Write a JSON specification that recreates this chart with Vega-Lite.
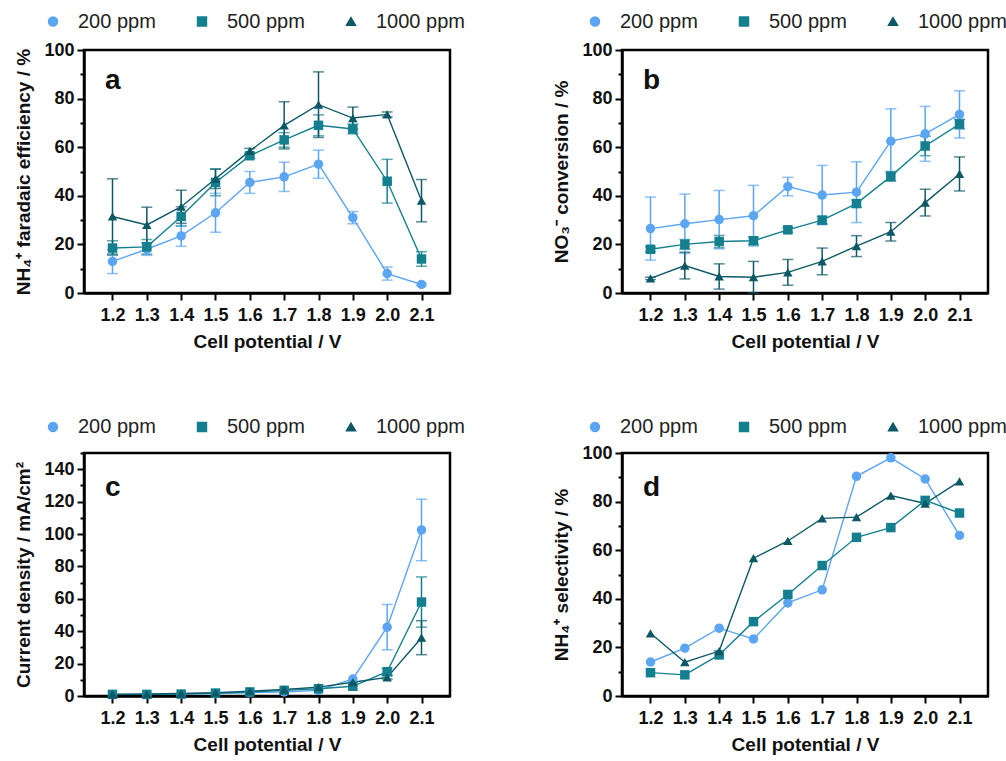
{
  "$schema": "https://vega.github.io/schema/vega-lite/v6.json",
  "background": "white",
  "padding": {"left": 13, "top": 10, "right": 0, "bottom": 0},
  "bounds": "flush",
  "columns": 2,
  "spacing": {"row": 160, "column": 172},
  "resolve": {"scale": {"color": "independent", "shape": "independent"}, "legend": {"color": "independent", "shape": "independent"}},
  "config": {
    "view": {"stroke": "#000", "strokeWidth": 2.5},
    "axis": {"domainColor": "#000", "domainWidth": 2.5, "tickColor": "#000", "tickWidth": 2, "tickSize": 7, "grid": false,
      "labelFont": "Liberation Sans", "labelFontWeight": "bold", "labelFontSize": 18, "labelColor": "#111",
      "titleFont": "Liberation Sans", "titleFontWeight": "bold", "titleFontSize": 19, "titleColor": "#111"},
    "legend": {"orient": "none", "direction": "horizontal", "title": null, "labelFont": "Liberation Sans", "labelFontSize": 20, "labelColor": "#222", "symbolSize": 80, "symbolOpacity": 1, "labelOffset": 15, "columnPadding": 36},
    "title": {"font": "Liberation Sans", "fontWeight": "bold", "fontSize": 28, "color": "#111", "anchor": "start", "frame": "group", "orient": "top", "offset": 0, "dx": 21, "baseline": "alphabetic"}
  },
  "datasets": {
    "a": [
      {"V":1.2,"series":"200 ppm","value":13,"err":5},{"V":1.3,"series":"200 ppm","value":18,"err":2.5},{"V":1.4,"series":"200 ppm","value":23.5,"err":4.3},{"V":1.5,"series":"200 ppm","value":33,"err":8},{"V":1.6,"series":"200 ppm","value":45.5,"err":4.5},{"V":1.7,"series":"200 ppm","value":47.8,"err":6},{"V":1.8,"series":"200 ppm","value":53,"err":5.8},{"V":1.9,"series":"200 ppm","value":31,"err":2.5},{"V":2.0,"series":"200 ppm","value":8,"err":2.7},{"V":2.1,"series":"200 ppm","value":3.5,"err":0.5},
      {"V":1.2,"series":"500 ppm","value":18.5,"err":3},{"V":1.3,"series":"500 ppm","value":19,"err":3},{"V":1.4,"series":"500 ppm","value":31.5,"err":4},{"V":1.5,"series":"500 ppm","value":45.5,"err":5.5},{"V":1.6,"series":"500 ppm","value":56.5,"err":1},{"V":1.7,"series":"500 ppm","value":63,"err":3},{"V":1.8,"series":"500 ppm","value":69,"err":4.3},{"V":1.9,"series":"500 ppm","value":67.5,"err":2},{"V":2.0,"series":"500 ppm","value":46,"err":9},{"V":2.1,"series":"500 ppm","value":14,"err":3},
      {"V":1.2,"series":"1000 ppm","value":31.5,"err":15.5},{"V":1.3,"series":"1000 ppm","value":28,"err":7.3},{"V":1.4,"series":"1000 ppm","value":35.5,"err":6.8},{"V":1.5,"series":"1000 ppm","value":47,"err":4},{"V":1.6,"series":"1000 ppm","value":58.5,"err":1},{"V":1.7,"series":"1000 ppm","value":69,"err":9.7},{"V":1.8,"series":"1000 ppm","value":77.5,"err":13.5},{"V":1.9,"series":"1000 ppm","value":72,"err":4.5},{"V":2.0,"series":"1000 ppm","value":73.5,"err":1},{"V":2.1,"series":"1000 ppm","value":38,"err":8.7}
    ],
    "b": [
      {"V":1.2,"series":"200 ppm","value":26.5,"err":13},{"V":1.3,"series":"200 ppm","value":28.5,"err":12.2},{"V":1.4,"series":"200 ppm","value":30.2,"err":12},{"V":1.5,"series":"200 ppm","value":31.8,"err":12.5},{"V":1.6,"series":"200 ppm","value":43.8,"err":3.8},{"V":1.7,"series":"200 ppm","value":40.3,"err":12.2},{"V":1.8,"series":"200 ppm","value":41.5,"err":12.5},{"V":1.9,"series":"200 ppm","value":62.5,"err":13.3},{"V":2.0,"series":"200 ppm","value":65.5,"err":11.3},{"V":2.1,"series":"200 ppm","value":73.5,"err":9.7},
      {"V":1.2,"series":"500 ppm","value":18,"err":1},{"V":1.3,"series":"500 ppm","value":20,"err":2},{"V":1.4,"series":"500 ppm","value":21.2,"err":2.5},{"V":1.5,"series":"500 ppm","value":21.5,"err":1.5},{"V":1.6,"series":"500 ppm","value":26,"err":1},{"V":1.7,"series":"500 ppm","value":30,"err":1.5},{"V":1.8,"series":"500 ppm","value":36.8,"err":1.5},{"V":1.9,"series":"500 ppm","value":48,"err":2},{"V":2.0,"series":"500 ppm","value":60.5,"err":4},{"V":2.1,"series":"500 ppm","value":69.5,"err":2},
      {"V":1.2,"series":"1000 ppm","value":6,"err":0.5},{"V":1.3,"series":"1000 ppm","value":11.3,"err":5.5},{"V":1.4,"series":"1000 ppm","value":6.8,"err":5.2},{"V":1.5,"series":"1000 ppm","value":6.5,"err":6.5},{"V":1.6,"series":"1000 ppm","value":8.5,"err":5.3},{"V":1.7,"series":"1000 ppm","value":13,"err":5.5},{"V":1.8,"series":"1000 ppm","value":19.3,"err":4.3},{"V":1.9,"series":"1000 ppm","value":25.2,"err":3.8},{"V":2.0,"series":"1000 ppm","value":37.2,"err":5.5},{"V":2.1,"series":"1000 ppm","value":49,"err":7}
    ],
    "c": [
      {"V":1.2,"series":"200 ppm","value":1,"err":0},{"V":1.3,"series":"200 ppm","value":1,"err":0},{"V":1.4,"series":"200 ppm","value":1,"err":0},{"V":1.5,"series":"200 ppm","value":1.5,"err":0},{"V":1.6,"series":"200 ppm","value":2,"err":0},{"V":1.7,"series":"200 ppm","value":2.5,"err":0},{"V":1.8,"series":"200 ppm","value":3.5,"err":0},{"V":1.9,"series":"200 ppm","value":10.5,"err":0},{"V":2.0,"series":"200 ppm","value":42.5,"err":14},{"V":2.1,"series":"200 ppm","value":102.5,"err":19},
      {"V":1.2,"series":"500 ppm","value":1,"err":0},{"V":1.3,"series":"500 ppm","value":1,"err":0},{"V":1.4,"series":"500 ppm","value":1.2,"err":0},{"V":1.5,"series":"500 ppm","value":1.8,"err":0},{"V":1.6,"series":"500 ppm","value":2.5,"err":0},{"V":1.7,"series":"500 ppm","value":3.5,"err":0},{"V":1.8,"series":"500 ppm","value":4.5,"err":0},{"V":1.9,"series":"500 ppm","value":6,"err":0},{"V":2.0,"series":"500 ppm","value":15,"err":2},{"V":2.1,"series":"500 ppm","value":58,"err":15.5},
      {"V":1.2,"series":"1000 ppm","value":1,"err":0},{"V":1.3,"series":"1000 ppm","value":1.2,"err":0},{"V":1.4,"series":"1000 ppm","value":1.5,"err":0},{"V":1.5,"series":"1000 ppm","value":2,"err":0},{"V":1.6,"series":"1000 ppm","value":3,"err":0},{"V":1.7,"series":"1000 ppm","value":4,"err":0},{"V":1.8,"series":"1000 ppm","value":5.5,"err":0},{"V":1.9,"series":"1000 ppm","value":8.5,"err":0},{"V":2.0,"series":"1000 ppm","value":11.5,"err":1},{"V":2.1,"series":"1000 ppm","value":36,"err":10.5}
    ],
    "d": [
      {"V":1.2,"series":"200 ppm","value":14},{"V":1.3,"series":"200 ppm","value":19.7},{"V":1.4,"series":"200 ppm","value":27.9},{"V":1.5,"series":"200 ppm","value":23.5},{"V":1.6,"series":"200 ppm","value":38.3},{"V":1.7,"series":"200 ppm","value":43.7},{"V":1.8,"series":"200 ppm","value":90.4},{"V":1.9,"series":"200 ppm","value":98},{"V":2.0,"series":"200 ppm","value":89.3},{"V":2.1,"series":"200 ppm","value":66.1},
      {"V":1.2,"series":"500 ppm","value":9.6},{"V":1.3,"series":"500 ppm","value":8.7},{"V":1.4,"series":"500 ppm","value":16.9},{"V":1.5,"series":"500 ppm","value":30.6},{"V":1.6,"series":"500 ppm","value":41.8},{"V":1.7,"series":"500 ppm","value":53.7},{"V":1.8,"series":"500 ppm","value":65.3},{"V":1.9,"series":"500 ppm","value":69.3},{"V":2.0,"series":"500 ppm","value":80.5},{"V":2.1,"series":"500 ppm","value":75.3},
      {"V":1.2,"series":"1000 ppm","value":25.8},{"V":1.3,"series":"1000 ppm","value":13.9},{"V":1.4,"series":"1000 ppm","value":18.5},{"V":1.5,"series":"1000 ppm","value":56.7},{"V":1.6,"series":"1000 ppm","value":63.8},{"V":1.7,"series":"1000 ppm","value":73.1},{"V":1.8,"series":"1000 ppm","value":73.6},{"V":1.9,"series":"1000 ppm","value":82.5},{"V":2.0,"series":"1000 ppm","value":79.2},{"V":2.1,"series":"1000 ppm","value":88.3}
    ]
  },
  "concat": [
    {
      "width": 366, "height": 243,
      "title": {"text": "a", "dy": 87},
      "data": {"name": "a"},
      "encoding": {
        "x": {"field": "V", "type": "quantitative", "scale": {"domain": [1.117, 2.183], "nice": false, "zero": false},
          "axis": {"values": [1.2,1.3,1.4,1.5,1.6,1.7,1.8,1.9,2.0,2.1], "format": ".1f", "labelPadding": 6, "titlePadding": 8, "labelOverlap": false, "labelFlush": false, "title": "Cell potential / V"}},
        "y": {"field": "value", "type": "quantitative", "scale": {"domain": [0, 100], "nice": false},
          "axis": {"values": [0,10,20,30,40,50,60,70,80,90,100], "labelExpr": "datum.value % 20 === 0 ? datum.label : ''", "tickSize": {"condition": {"test": "datum.value % 20 !== 0", "value": 4}, "value": 7}, "labelPadding": 3, "titlePadding": 10, "title": "NH₄⁺ faradaic efficiency / %"}},
        "color": {"field": "series", "type": "nominal", "scale": {"domain": ["200 ppm","500 ppm","1000 ppm"], "range": ["#5ba5f2","#14808f","#0c5866"]},
          "legend": {"legendX": -41, "legendY": -38.5}}
      },
      "layer": [
        {"transform": [{"filter": "datum.err > 0"}], "mark": {"type": "errorbar", "ticks": {"size": 11}, "thickness": 1.5},
         "encoding": {"yError": {"field": "err"}}},
        {"mark": {"type": "line", "strokeWidth": 1.4}},
        {"mark": {"type": "point", "filled": true, "size": 90, "opacity": 1},
         "encoding": {"shape": {"field": "series", "type": "nominal", "scale": {"domain": ["200 ppm","500 ppm","1000 ppm"], "range": ["circle","square","triangle-up"]}, "legend": null}}}
      ]
    },
    {
      "width": 366, "height": 243,
      "title": {"text": "b", "dy": 87},
      "data": {"name": "b"},
      "encoding": {
        "x": {"field": "V", "type": "quantitative", "scale": {"domain": [1.117, 2.183], "nice": false, "zero": false},
          "axis": {"values": [1.2,1.3,1.4,1.5,1.6,1.7,1.8,1.9,2.0,2.1], "format": ".1f", "labelPadding": 6, "titlePadding": 8, "labelOverlap": false, "labelFlush": false, "title": "Cell potential / V"}},
        "y": {"field": "value", "type": "quantitative", "scale": {"domain": [0, 100], "nice": false},
          "axis": {"values": [0,10,20,30,40,50,60,70,80,90,100], "labelExpr": "datum.value % 20 === 0 ? datum.label : ''", "tickSize": {"condition": {"test": "datum.value % 20 !== 0", "value": 4}, "value": 7}, "labelPadding": 3, "titlePadding": 10, "title": "NO₃⁻ conversion / %"}},
        "color": {"field": "series", "type": "nominal", "scale": {"domain": ["200 ppm","500 ppm","1000 ppm"], "range": ["#5ba5f2","#14808f","#0c5866"]},
          "legend": {"legendX": -37, "legendY": -38.5}}
      },
      "layer": [
        {"transform": [{"filter": "datum.err > 0"}], "mark": {"type": "errorbar", "ticks": {"size": 11}, "thickness": 1.5},
         "encoding": {"yError": {"field": "err"}}},
        {"mark": {"type": "line", "strokeWidth": 1.4}},
        {"mark": {"type": "point", "filled": true, "size": 90, "opacity": 1},
         "encoding": {"shape": {"field": "series", "type": "nominal", "scale": {"domain": ["200 ppm","500 ppm","1000 ppm"], "range": ["circle","square","triangle-up"]}, "legend": null}}}
      ]
    },
    {
      "width": 366, "height": 243,
      "title": {"text": "c", "dy": 89},
      "data": {"name": "c"},
      "encoding": {
        "x": {"field": "V", "type": "quantitative", "scale": {"domain": [1.117, 2.183], "nice": false, "zero": false},
          "axis": {"values": [1.2,1.3,1.4,1.5,1.6,1.7,1.8,1.9,2.0,2.1], "format": ".1f", "labelPadding": 6, "titlePadding": 8, "labelOverlap": false, "labelFlush": false, "title": "Cell potential / V"}},
        "y": {"field": "value", "type": "quantitative", "scale": {"domain": [0, 150], "nice": false},
          "axis": {"values": [0,10,20,30,40,50,60,70,80,90,100,110,120,130,140,150], "labelExpr": "datum.value % 20 === 0 ? datum.label : ''", "tickSize": {"condition": {"test": "datum.value % 20 !== 0", "value": 4}, "value": 7}, "labelPadding": 3, "titlePadding": 10, "title": "Current density / mA/cm²"}},
        "color": {"field": "series", "type": "nominal", "scale": {"domain": ["200 ppm","500 ppm","1000 ppm"], "range": ["#5ba5f2","#14808f","#0c5866"]},
          "legend": {"legendX": -41, "legendY": -36}}
      },
      "layer": [
        {"transform": [{"filter": "datum.err > 0"}], "mark": {"type": "errorbar", "ticks": {"size": 11}, "thickness": 1.5},
         "encoding": {"yError": {"field": "err"}}},
        {"mark": {"type": "line", "strokeWidth": 1.4}},
        {"mark": {"type": "point", "filled": true, "size": 90, "opacity": 1},
         "encoding": {"shape": {"field": "series", "type": "nominal", "scale": {"domain": ["200 ppm","500 ppm","1000 ppm"], "range": ["circle","square","triangle-up"]}, "legend": null}}}
      ]
    },
    {
      "width": 366, "height": 243,
      "title": {"text": "d", "dy": 89},
      "data": {"name": "d"},
      "encoding": {
        "x": {"field": "V", "type": "quantitative", "scale": {"domain": [1.117, 2.183], "nice": false, "zero": false},
          "axis": {"values": [1.2,1.3,1.4,1.5,1.6,1.7,1.8,1.9,2.0,2.1], "format": ".1f", "labelPadding": 6, "titlePadding": 8, "labelOverlap": false, "labelFlush": false, "title": "Cell potential / V"}},
        "y": {"field": "value", "type": "quantitative", "scale": {"domain": [0, 100], "nice": false},
          "axis": {"values": [0,10,20,30,40,50,60,70,80,90,100], "labelExpr": "datum.value % 20 === 0 ? datum.label : ''", "tickSize": {"condition": {"test": "datum.value % 20 !== 0", "value": 4}, "value": 7}, "labelPadding": 3, "titlePadding": 10, "title": "NH₄⁺ selectivity / %"}},
        "color": {"field": "series", "type": "nominal", "scale": {"domain": ["200 ppm","500 ppm","1000 ppm"], "range": ["#5ba5f2","#14808f","#0c5866"]},
          "legend": {"legendX": -37, "legendY": -36}}
      },
      "layer": [
        {"mark": {"type": "line", "strokeWidth": 1.4}},
        {"mark": {"type": "point", "filled": true, "size": 90, "opacity": 1},
         "encoding": {"shape": {"field": "series", "type": "nominal", "scale": {"domain": ["200 ppm","500 ppm","1000 ppm"], "range": ["circle","square","triangle-up"]}, "legend": null}}}
      ]
    }
  ]
}
